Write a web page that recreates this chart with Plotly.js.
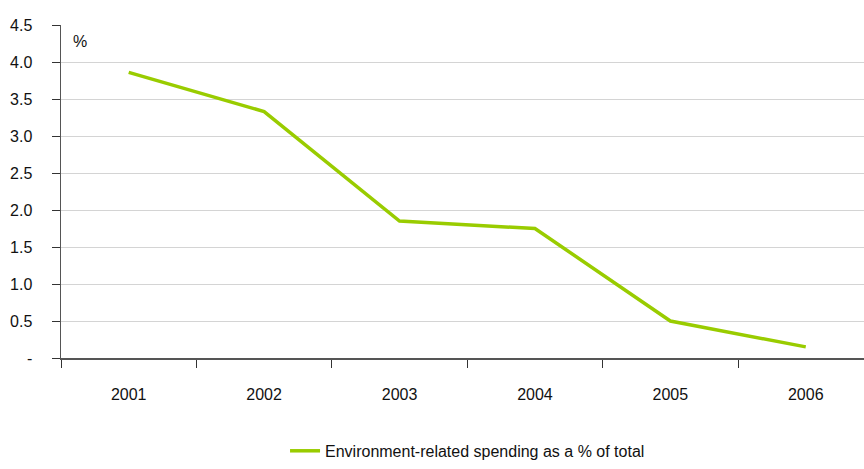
<!DOCTYPE html>
<html><head><meta charset="utf-8">
<script src="https://cdn.plot.ly/plotly-3.0.1.min.js"></script>
<style>html,body{margin:0;padding:0;background:#fff}#c{width:864px;height:469px}</style>
</head><body><div id="c"></div>
<script>
const years = ['2001','2002','2003','2004','2005','2006'];
const envShare = [3.86, 3.33, 1.85, 1.75, 0.50, 0.15];
const yTickVals = [0,0.5,1,1.5,2,2.5,3,3.5,4,4.5];
const yTickText = ['-','0.5','1.0','1.5','2.0','2.5','3.0','3.5','4.0','4.5'];
const seriesName = 'Environment-related spending as a % of total';

const font = {family:'Liberation Sans, Arial, sans-serif', size:16, color:'#111'};
Plotly.newPlot('c', [{
  x: years, y: envShare, type:'scatter', mode:'lines', name: seriesName,
  line:{color:'#99cc00', width:3.5}
}], {
  width:864, height:469,
  margin:{l:61, r:0, t:25, b:111},
  paper_bgcolor:'#fff', plot_bgcolor:'#fff',
  font: font,
  showlegend:true,
  legend:{orientation:'h', x:0.279, xanchor:'left', y:-0.33, yanchor:'bottom', font:{size:16}},
  xaxis:{type:'category', range:[-0.5,5.43], tickson:'boundaries', ticks:'outside', ticklen:8,
    tickcolor:'#333', showline:true, linecolor:'#555', linewidth:1.5, showgrid:false,
    ticklabelstandoff:21, fixedrange:true},
  yaxis:{range:[0,4.5], tickvals:yTickVals, ticktext:yTickText, ticks:'outside', ticklen:8,
    tickcolor:'#333', showline:true, linecolor:'#555', linewidth:1.5, showgrid:true,
    gridcolor:'#d4d4d4', gridwidth:1, zeroline:false, ticklabelstandoff:16, fixedrange:true},
  annotations:[{text:'%', xref:'paper', yref:'paper', x:(71-61)/803, y:(358-41)/333, xanchor:'left', yanchor:'middle', showarrow:false, font:{size:16}}]
}, {staticPlot:true});
</script></body></html>
